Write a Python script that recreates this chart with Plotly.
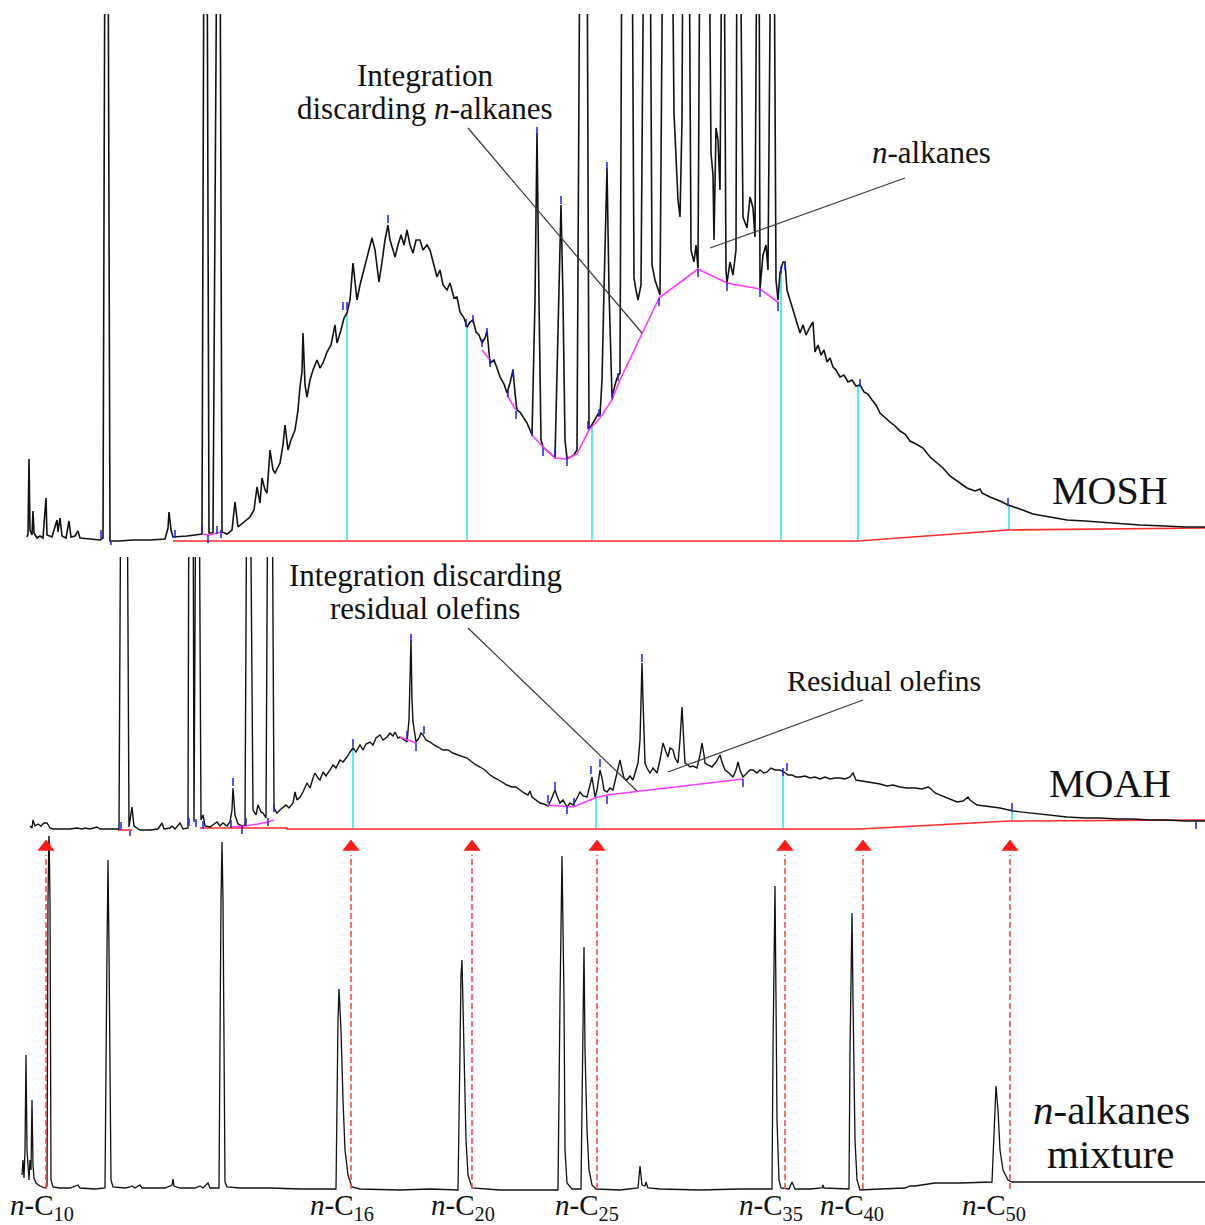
import numpy as np
import plotly.graph_objects as go

W, H = 1205, 1225

# ---------------- MOSH trace: (retention time, signal a.u.) ----------------
mosh_points = [
    (27, 4), (28, 7), (29, 82), (30, 11), (32, 6), (33, 30), (34, 8), (37, 3), (40, 5), (43, 3),
    (46, 43), (47, 6), (52, 4), (57, 21), (58, 9), (60, 23), (62, 5), (66, 3), (69, 20), (71, 4),
    (75, 5), (78, 10), (80, 3), (90, 2), (100, 1), (103, 3), (105, 641), (108, 641), (110, 0), (120, 0),
    (133, 1), (150, 1), (165, 2), (168, 13), (169, 29), (171, 11), (173, 4), (187, 5), (200, 7), (202, 7),
    (204, 641), (207, 641), (209, 8), (213, 8), (217, 641), (220, 641), (222, 9), (227, 7), (232, 11), (235, 39),
    (238, 14), (244, 19), (250, 24), (254, 31), (257, 54), (260, 38), (262, 63), (265, 51), (267, 48), (270, 91),
    (273, 71), (275, 68), (280, 78), (283, 96), (285, 116), (288, 91), (291, 101), (295, 111), (298, 131), (300, 154),
    (302, 169), (303, 208), (305, 156), (307, 144), (310, 161), (313, 171), (317, 181), (320, 173), (323, 178), (327, 189),
    (331, 196), (335, 216), (337, 198), (341, 211), (344, 223), (347, 228), (350, 241), (353, 278), (355, 256), (357, 241),
    (360, 256), (362, 264), (366, 279), (369, 291), (372, 303), (375, 291), (377, 273), (379, 259), (382, 279), (385, 301),
    (388, 316), (390, 301), (393, 291), (395, 284), (398, 296), (401, 306), (404, 296), (407, 311), (410, 296), (413, 288),
    (416, 301), (420, 301), (423, 291), (427, 296), (430, 291), (433, 279), (437, 264), (440, 271), (443, 256), (447, 251),
    (450, 258), (454, 243), (457, 244), (460, 229), (464, 223), (467, 214), (470, 219), (473, 221), (476, 209), (479, 206),
    (482, 198), (485, 203), (487, 210), (490, 178), (494, 181), (497, 173), (500, 164), (504, 157), (507, 148), (510, 158),
    (513, 171), (515, 148), (517, 131), (520, 129), (524, 123), (527, 118), (530, 111), (532, 106), (535, 241), (537, 408),
    (539, 241), (541, 101), (543, 94), (547, 91), (550, 88), (555, 83), (558, 211), (559, 281), (561, 336), (563, 241),
    (565, 101), (567, 83), (571, 84), (574, 86), (577, 91), (580, 641), (587, 641), (589, 111), (592, 116), (595, 121),
    (598, 127), (600, 126), (602, 161), (604, 251), (607, 373), (609, 251), (611, 161), (612, 144), (615, 156), (617, 163),
    (620, 168), (622, 641), (632, 641), (634, 263), (636, 251), (638, 241), (641, 256), (644, 641), (650, 641), (652, 276),
    (655, 261), (658, 251), (660, 246), (663, 641), (672, 641), (674, 428), (676, 391), (678, 341), (680, 324), (682, 421),
    (683, 641), (689, 641), (691, 291), (694, 279), (696, 296), (698, 273), (700, 641), (709, 641), (711, 388), (713, 366),
    (714, 301), (716, 413), (718, 401), (720, 351), (722, 641), (724, 641), (726, 271), (727, 258), (730, 279), (733, 266),
    (736, 291), (737, 641), (740, 641), (743, 324), (747, 313), (750, 344), (753, 333), (755, 304), (757, 641), (759, 641),
    (760, 252), (763, 286), (766, 296), (768, 271), (771, 641), (774, 641), (776, 261), (778, 241), (780, 268), (783, 279),
    (785, 279), (787, 251), (790, 241), (793, 231), (797, 216), (800, 208), (803, 216), (806, 206), (810, 214), (813, 219),
    (815, 189), (818, 196), (821, 186), (824, 191), (827, 179), (830, 183), (833, 174), (836, 171), (840, 164), (844, 166),
    (848, 159), (852, 161), (856, 155), (860, 156), (864, 149), (868, 147), (872, 141), (876, 136), (880, 128), (885, 123),
    (890, 119), (895, 115), (900, 110), (905, 107), (910, 100), (916, 97), (923, 93), (930, 84), (937, 78), (943, 73),
    (950, 65), (958, 59), (967, 53), (975, 50), (980, 52), (982, 48), (990, 44), (1000, 40), (1008, 36), (1020, 32),
    (1033, 27), (1050, 24), (1067, 21), (1085, 20), (1100, 19), (1120, 17), (1140, 16), (1165, 15), (1185, 14), (1205, 14),
]
mosh_baseline = [(173, 0), (858, 0), (1008, 11), (1205, 13)]
mosh_valley_lines = [
    [(202, 7), (210, 6), (217, 8), (222, 9)],
    [(482, 191), (490, 181)],
    [(507, 146), (516, 131)],
    [(532, 106), (543, 94), (555, 83), (567, 82), (577, 87), (589, 111), (600, 123), (612, 141),
     (620, 161), (642, 208), (659, 243), (698, 272), (727, 258), (760, 252), (779, 238)],
]
mosh_cuts = [347, 467, 592, 781, 858, 1009]
mosh_marks = [
    (101, 7), (111, -4), (175, 7), (202, 11), (208, 2), (217, 11), (221, 7), (343, 235), (347, 235),
    (388, 322), (466, 218), (473, 222), (482, 198), (487, 209), (490, 178), (508, 148), (513, 168),
    (516, 126), (532, 109), (537, 410), (543, 89), (555, 88), (561, 341), (567, 79), (588, 116),
    (599, 128), (607, 375), (612, 146), (618, 164), (659, 239), (698, 268), (727, 254), (760, 248),
    (778, 234), (781, 271), (785, 275), (860, 158), (1008, 39),
]

# ---------------- MOAH trace ----------------
moah_points = [
    (30, 3), (32, 1), (33, 9), (35, 3), (38, 5), (41, 3), (44, 6), (47, 6), (50, 1), (53, 0),
    (60, 0), (70, 0), (77, 1), (82, 0), (85, 1), (90, 0), (97, 2), (100, 0), (110, 0), (119, 0),
    (121, 400), (127, 400), (129, 2), (132, 22), (134, 3), (140, -1), (150, -1), (158, 0), (162, 6), (164, 0),
    (170, 1), (172, 3), (175, 0), (180, 6), (183, 0), (188, 1), (189, 400), (193, 400), (194, 7), (196, 400),
    (199, 400), (201, 9), (203, 14), (205, 3), (210, 2), (215, 5), (217, 7), (220, 3), (223, 6), (227, 3),
    (230, 7), (232, 19), (233, 41), (235, 14), (238, 5), (242, 3), (245, 4), (247, 400), (250, 400), (253, 19),
    (256, 14), (258, 24), (261, 17), (263, 16), (266, 11), (268, 400), (272, 400), (274, 21), (277, 16), (280, 19),
    (283, 22), (286, 24), (289, 21), (293, 26), (295, 37), (297, 29), (300, 32), (303, 37), (307, 46), (310, 41),
    (313, 51), (315, 56), (318, 51), (320, 49), (323, 57), (326, 53), (330, 59), (333, 64), (336, 61), (340, 69),
    (343, 67), (347, 72), (350, 77), (353, 81), (356, 77), (360, 84), (363, 79), (366, 85), (370, 87), (373, 84),
    (376, 91), (380, 94), (383, 89), (387, 92), (390, 96), (393, 93), (395, 97), (398, 91), (400, 92), (404, 89),
    (407, 87), (409, 109), (411, 189), (412, 129), (413, 107), (415, 94), (416, 87), (419, 91), (421, 96), (423, 94),
    (426, 89), (430, 87), (434, 84), (438, 82), (443, 79), (448, 79), (453, 76), (458, 74), (463, 72), (467, 71),
    (472, 67), (476, 64), (480, 62), (485, 59), (489, 55), (493, 52), (497, 50), (502, 47), (507, 44), (512, 42),
    (516, 42), (520, 39), (524, 36), (528, 34), (530, 38), (532, 32), (536, 29), (540, 26), (544, 25), (548, 23),
    (551, 29), (553, 34), (555, 39), (557, 33), (560, 26), (563, 29), (567, 22), (570, 26), (573, 24), (576, 29),
    (578, 34), (580, 37), (583, 33), (587, 32), (590, 44), (592, 52), (594, 39), (595, 32), (597, 39), (599, 54),
    (600, 59), (602, 51), (604, 39), (607, 37), (610, 41), (613, 39), (616, 51), (618, 59), (620, 69), (622, 59),
    (624, 51), (627, 49), (630, 53), (633, 49), (636, 59), (638, 66), (640, 89), (642, 166), (643, 129), (645, 66),
    (647, 61), (650, 56), (653, 61), (657, 56), (660, 69), (663, 86), (666, 77), (668, 72), (670, 81), (673, 79),
    (675, 71), (678, 66), (680, 89), (682, 122), (684, 84), (685, 66), (688, 64), (690, 62), (693, 63), (697, 61),
    (700, 74), (702, 86), (704, 74), (705, 66), (708, 64), (712, 62), (716, 67), (720, 74), (722, 67), (725, 59),
    (729, 56), (733, 52), (736, 59), (738, 67), (740, 59), (743, 52), (747, 56), (750, 59), (753, 59), (757, 56),
    (760, 59), (764, 56), (767, 57), (771, 61), (775, 59), (780, 59), (784, 57), (788, 54), (792, 54), (796, 52),
    (800, 52), (805, 53), (810, 51), (815, 52), (820, 50), (825, 52), (830, 50), (835, 51), (840, 51), (845, 50),
    (850, 52), (853, 56), (856, 49), (862, 48), (868, 47), (873, 46), (880, 45), (887, 43), (893, 44), (900, 42),
    (907, 41), (915, 41), (922, 40), (928, 42), (930, 41), (935, 36), (940, 34), (945, 32), (950, 30), (957, 27),
    (963, 28), (968, 32), (970, 29), (977, 24), (985, 23), (993, 22), (1000, 21), (1013, 18), (1023, 17), (1033, 16),
    (1050, 14), (1067, 12), (1085, 11), (1100, 11), (1117, 10), (1133, 10), (1150, 9), (1167, 9), (1185, 8), (1205, 8),
]
moah_baseline_parts = [
    [(118, -1), (132, -1)],
    [(200, 1), (287, 1), (287, 0), (860, 0), (1010, 8), (1205, 9)],
]
moah_valley_lines = [
    [(230, 2), (245, 3), (258, 5), (268, 7), (274, 9)],
    [(400, 92), (416, 86)],
    [(547, 24), (567, 22), (573, 22), (595, 31), (607, 34), (743, 50)],
]
moah_cuts = [353, 596, 783, 1012]
moah_marks = [
    (121, 3), (130, -6), (189, 7), (196, 6), (203, 4), (231, 5), (233, 47), (242, -1), (246, 7),
    (268, 7), (274, 21), (353, 86), (407, 94), (411, 191), (416, 82), (424, 99), (548, 30), (555, 43),
    (567, 19), (574, 27), (591, 59), (600, 66), (607, 29), (642, 171), (743, 46), (783, 57), (787, 62),
    (1012, 22), (1196, 4),
]

# ---------------- n-alkanes reference mixture ----------------
alkane_points = [
    (22, 14), (23, 29), (24, 11), (25, 39), (26, 134), (27, 39), (28, 24), (29, 9), (30, 29), (31, 19),
    (32, 89), (33, 24), (34, 11), (36, 6), (40, 3), (45, 1), (47, 3), (48, 289), (49, 360), (50, 289),
    (51, 9), (53, 2), (60, 1), (70, 1), (78, 4), (80, 1), (95, 0), (105, 1), (107, 239), (108, 329),
    (109, 239), (111, 9), (113, 2), (125, 1), (130, 2), (132, 3), (135, 1), (140, 4), (142, 1), (165, 1),
    (172, 4), (173, 10), (174, 3), (180, 1), (195, 1), (200, 3), (203, 1), (208, 6), (210, 1), (219, 1),
    (221, 289), (222, 347), (223, 289), (225, 7), (227, 2), (240, 1), (270, 1), (300, 0), (336, 0), (337, 89),
    (338, 169), (339, 200), (341, 159), (343, 89), (345, 39), (348, 14), (352, 2), (360, 0), (400, -1), (430, 0),
    (458, -1), (460, 139), (461, 214), (462, 229), (464, 149), (466, 49), (468, 14), (472, 1), (500, -1), (558, -1),
    (560, 189), (562, 333), (564, 189), (565, 39), (567, 6), (572, 0), (581, 0), (583, 189), (584, 242), (585, 139),
    (586, 106), (587, 59), (589, 19), (592, 4), (596, 0), (620, -1), (638, 1), (640, 23), (642, 4), (645, 3),
    (646, 7), (648, 1), (660, 0), (700, -1), (740, 0), (772, 0), (773, 139), (775, 303), (776, 189), (777, 69),
    (779, 9), (781, 1), (789, 0), (792, 7), (795, 0), (810, 0), (822, 1), (823, 4), (824, 1), (849, 0),
    (850, 139), (852, 276), (853, 189), (855, 49), (857, 9), (860, -1), (880, 0), (905, 1), (910, 3), (915, 3),
    (935, 6), (960, 6), (992, 7), (993, 29), (995, 89), (996, 103), (998, 79), (1000, 39), (1003, 19), (1008, 9),
    (1012, 7), (1100, 7), (1205, 7),
]
alkane_ref_times = [46, 351, 472, 597, 785, 863, 1010]
alkane_carbons = ["10", "16", "20", "25", "35", "40", "50"]
alkane_label_x = [42, 342, 463, 587, 771, 852, 994]

# ---------------- page geometry (pixels from top) ----------------
PANELS = {
    "y": (14, 545, -4, 527),     # MOSH: top px, bottom px, y-range
    "y2": (557, 845, -16, 272),  # MOAH
    "y3": (836, 1195, -6, 353),  # n-alkanes
}

BLACK = "#111111"
RED = "#ff2b2b"
CYAN = "#2ee8f2"
MAGENTA = "#ff3cff"
BLUE = "#1c1cff"
SERIF = "Liberation Serif, Times New Roman, serif"

fig = go.Figure()


def unzip(points):
    return [p[0] for p in points], [p[1] for p in points]


def add_path(points, ax, color, width, dash=None):
    x, y = unzip(points)
    fig.add_trace(go.Scatter(
        x=x, y=y, mode="lines", xaxis=ax[0], yaxis=ax[1],
        line=dict(color=color, width=width, dash=dash), hoverinfo="skip"))


def add_segments(segs, ax, color, width, dash=None):
    x, y = [], []
    for t, lo, hi in segs:
        x += [t, t, None]
        y += [lo, hi, None]
    fig.add_trace(go.Scatter(
        x=x, y=y, mode="lines", xaxis=ax[0], yaxis=ax[1],
        line=dict(color=color, width=width, dash=dash), hoverinfo="skip"))


def cut_segments(cuts, trace, base_parts):
    tx, ty = unzip(trace)
    bx, by = unzip(base_parts)
    return [(c, float(np.interp(c, bx, by)), float(np.interp(c, tx, ty))) for c in cuts]


# MOSH panel
ax1 = ("x", "y")
add_segments(cut_segments(mosh_cuts, mosh_points, mosh_baseline), ax1, CYAN, 1.6)
add_path(mosh_baseline, ax1, RED, 1.6)
add_path(mosh_points, ax1, BLACK, 1.6)
for part in mosh_valley_lines:
    add_path(part, ax1, MAGENTA, 1.6)
add_segments([(t, v - 4, v + 4) for t, v in mosh_marks], ax1, BLUE, 1.5)

# MOAH panel
ax2 = ("x2", "y2")
add_segments(cut_segments(moah_cuts, moah_points, moah_baseline_parts[1]), ax2, CYAN, 1.6)
for part in moah_baseline_parts:
    add_path(part, ax2, RED, 1.6)
add_path(moah_points, ax2, BLACK, 1.4)
for part in moah_valley_lines:
    add_path(part, ax2, MAGENTA, 1.6)
add_segments([(t, v - 4, v + 4) for t, v in moah_marks], ax2, BLUE, 1.5)

# n-alkanes panel
ax3 = ("x3", "y3")
add_path(alkane_points, ax3, BLACK, 1.3)
add_segments([(t, 0, 334) for t in alkane_ref_times], ax3, "#ff4a4a", 1.6, dash="6px,3px")
fig.add_trace(go.Scatter(
    x=alkane_ref_times, y=[342] * len(alkane_ref_times), mode="markers",
    xaxis="x3", yaxis="y3", cliponaxis=False, hoverinfo="skip",
    marker=dict(symbol="triangle-up", size=15, color="#ff1a1a", line=dict(width=0))))

# axes
layout_axes = {}
for i, (yname, (top_px, bot_px, lo, hi)) in enumerate(PANELS.items(), start=1):
    xname = "xaxis" if i == 1 else f"xaxis{i}"
    yaxis = "yaxis" if i == 1 else f"yaxis{i}"
    layout_axes[xname] = dict(domain=[0, 1], range=[0, W], visible=False,
                              anchor=yname, fixedrange=True)
    layout_axes[yaxis] = dict(domain=[1 - bot_px / H, 1 - top_px / H], range=[lo, hi],
                              visible=False, anchor="x" if i == 1 else f"x{i}",
                              fixedrange=True)

# leader lines from the callouts to the chromatograms
leaders = [
    ("x", "y", 468, 413, 642, 208),
    ("x", "y", 905, 363, 710, 293),
    ("x2", "y2", 468, 201, 637, 38),
    ("x2", "y2", 668, 57, 863, 129),
]
shapes = [dict(type="line", xref=xr, yref=yr, x0=a, y0=b, x1=c, y1=d,
               line=dict(color="#3a3a3a", width=1.2)) for xr, yr, a, b, c, d in leaders]


def label(text, px, py, size):
    return dict(text=text, x=px / W, y=1 - py / H, xref="paper", yref="paper",
                xanchor="center", yanchor="middle", showarrow=False,
                font=dict(family=SERIF, size=size, color="#111111"))


annotations = [
    label("Integration", 425, 76, 31),
    label("discarding <i>n</i>-alkanes", 425, 109, 31),
    label("<i>n</i>-alkanes", 931, 152, 31),
    label("MOSH", 1110, 490, 40),
    label("Integration discarding", 425, 575, 31),
    label("residual olefins", 425, 608, 31),
    label("Residual olefins", 884, 680, 30),
    label("MOAH", 1110, 783, 40),
    label("<i>n</i>-alkanes", 1111, 1110, 41),
    label("mixture", 1111, 1154, 41),
]
for cx, c in zip(alkane_label_x, alkane_carbons):
    annotations.append(label(f"<i>n</i>-C<sub>{c}</sub>", cx, 1207, 29))

fig.update_layout(
    width=W, height=H, margin=dict(l=0, r=0, t=0, b=0),
    paper_bgcolor="white", plot_bgcolor="white", showlegend=False,
    shapes=shapes, annotations=annotations, **layout_axes)

fig.write_html("out.html")
